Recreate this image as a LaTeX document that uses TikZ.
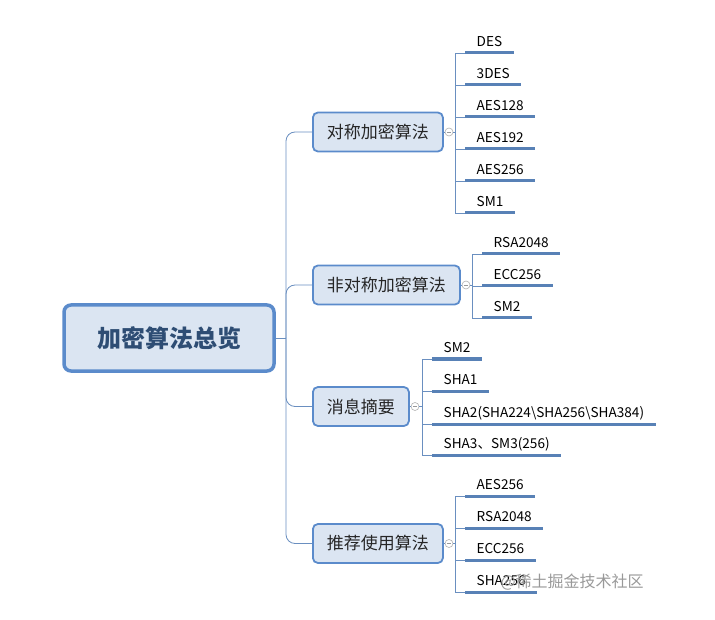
\documentclass[tikz,border=0pt]{standalone}
\usepackage{fontspec}
\setmainfont{Noto Sans CJK SC}
\usepackage{tikz}
\usetikzlibrary{positioning, calc}
\definecolor{mm-border}{HTML}{5B8BCB}
\definecolor{mm-fill}{HTML}{DBE5F2}
\definecolor{mm-root}{HTML}{2E4D74}
\definecolor{mm-line}{HTML}{6A8FC0}
\definecolor{mm-under}{HTML}{5881B6}

\begin{document}
\begin{tikzpicture}[x=1pt, y=-1pt,
    root/.style={draw=mm-border, fill=mm-fill, line width=3.5pt, rounded corners=7pt, minimum width=210pt, minimum height=66pt, text=mm-root, font=\fontsize{24}{26}\selectfont\bfseries},
    topic/.style={draw=mm-border, fill=mm-fill, line width=1.8pt, rounded corners=5pt, anchor=west, minimum height=39pt, inner xsep=14pt, text=black!85, font=\fontsize{17}{19}\selectfont},
    fold/.style={circle, draw=black!30, fill=white, line width=0.6pt, minimum size=8pt, inner sep=0pt, path picture={\draw[black!40, line width=0.6pt] ([xshift=-2.2pt]path picture bounding box.center) -- ([xshift=2.2pt]path picture bounding box.center);}},
    leaf/.style={anchor=south west, inner xsep=11.5pt, inner ysep=6.5pt, text height=10pt, text depth=0pt, font=\fontsize{13.6}{15}\selectfont},
    uline/.style={draw=mm-under, line width=3pt},
    branch/.style={draw=mm-line, line width=0.8pt}
]
    \useasboundingbox (0,0) rectangle (715,620);

    % root and main topics
    \node (root) [root] at (169,338) {加密算法总览};
    \node (sym) [topic] at (312,132) {对称加密算法};
    \node (asym) [topic] at (312,285) {非对称加密算法};
    \node (hash) [topic] at (312,406.5) {消息摘要};
    \node (rec) [topic] at (312,543.5) {推荐使用算法};

    \coordinate (trunk) at (286,338);
    \draw [branch] (root) -- (trunk);
    \draw [branch, rounded corners=9pt] (trunk) |- (sym);
    \draw [branch, rounded corners=9pt] (trunk) |- (asym);
    \draw [branch, rounded corners=9pt] (trunk) |- (hash);
    \draw [branch, rounded corners=9pt] (trunk) |- (rec);

    % fold markers
    \node (sym-f) [fold] at (449,132) {};
    \node (asym-f) [fold] at (466,285) {};
    \node (hash-f) [fold] at (415,406.5) {};
    \node (rec-f) [fold] at (449,543.5) {};
    \coordinate (sym-j) at (455,132);
    \coordinate (asym-j) at (472,285);
    \coordinate (hash-j) at (422,406.5);
    \coordinate (rec-j) at (455,543.5);

    \draw [branch] (sym) -- (sym-f) -- (sym-j);
    \draw [branch] (asym) -- (asym-f) -- (asym-j);
    \draw [branch] (hash) -- (hash-f) -- (hash-j);
    \draw [branch] (rec) -- (rec-f) -- (rec-j);

    % symmetric
    \node (des) [leaf] at (465,53) {DES};
    \node (tdes) [leaf] at (465,85) {3DES};
    \node (aes128) [leaf] at (465,117) {AES128};
    \node (aes192) [leaf] at (465,149) {AES192};
    \node (aes256) [leaf] at (465,181) {AES256};
    \node (sm1) [leaf] at (465,213) {SM1};

    % asymmetric
    \node (rsa) [leaf] at (482,254) {RSA2048};
    \node (ecc) [leaf] at (482,286) {ECC256};
    \node (sm2) [leaf] at (482,318) {SM2};

    % digest
    \node (hsm2) [leaf] at (432,359) {SM2};
    \node (sha1) [leaf] at (432,391) {SHA1};
    \node (sha2) [leaf] at (432,424) {SHA2(SHA224\textbackslash SHA256\textbackslash SHA384)};
    \node (sha3) [leaf] at (432,455) {SHA3、SM3(256)};

    % recommended
    \node (raes) [leaf] at (465,496) {AES256};
    \node (rrsa) [leaf] at (465,528) {RSA2048};
    \node (recc) [leaf] at (465,560) {ECC256};
    \node (rsha) [leaf] at (465,592) {SHA256};

    \draw [branch] (sym-j) |- (des.south west);
    \draw [branch] (sym-j) |- (tdes.south west);
    \draw [branch] (sym-j) |- (aes128.south west);
    \draw [branch] (sym-j) |- (aes192.south west);
    \draw [branch] (sym-j) |- (aes256.south west);
    \draw [branch] (sym-j) |- (sm1.south west);
    \draw [branch] (asym-j) |- (rsa.south west);
    \draw [branch] (asym-j) |- (ecc.south west);
    \draw [branch] (asym-j) |- (sm2.south west);
    \draw [branch] (hash-j) |- (hsm2.south west);
    \draw [branch] (hash-j) |- (sha1.south west);
    \draw [branch] (hash-j) |- (sha2.south west);
    \draw [branch] (hash-j) |- (sha3.south west);
    \draw [branch] (rec-j) |- (raes.south west);
    \draw [branch] (rec-j) |- (rrsa.south west);
    \draw [branch] (rec-j) |- (recc.south west);
    \draw [branch] (rec-j) |- (rsha.south west);

    \draw [uline] (des.south west) -- (des.south east);
    \draw [uline] (tdes.south west) -- (tdes.south east);
    \draw [uline] (aes128.south west) -- (aes128.south east);
    \draw [uline] (aes192.south west) -- (aes192.south east);
    \draw [uline] (aes256.south west) -- (aes256.south east);
    \draw [uline] (sm1.south west) -- (sm1.south east);
    \draw [uline] (rsa.south west) -- (rsa.south east);
    \draw [uline] (ecc.south west) -- (ecc.south east);
    \draw [uline] (sm2.south west) -- (sm2.south east);
    \draw [uline] (hsm2.south west) -- (hsm2.south east);
    \draw [uline] (sha1.south west) -- (sha1.south east);
    \draw [uline] (sha2.south west) -- (sha2.south east);
    \draw [uline] (sha3.south west) -- (sha3.south east);
    \draw [uline] (raes.south west) -- (raes.south east);
    \draw [uline] (rrsa.south west) -- (rrsa.south east);
    \draw [uline] (recc.south west) -- (recc.south east);
    \draw [uline] (rsha.south west) -- (rsha.south east);

    \node (mark) [anchor=west, text=black!40, font=\fontsize{16}{18}\selectfont] at (497,582) {@稀土掘金技术社区};
\end{tikzpicture}
\end{document}
